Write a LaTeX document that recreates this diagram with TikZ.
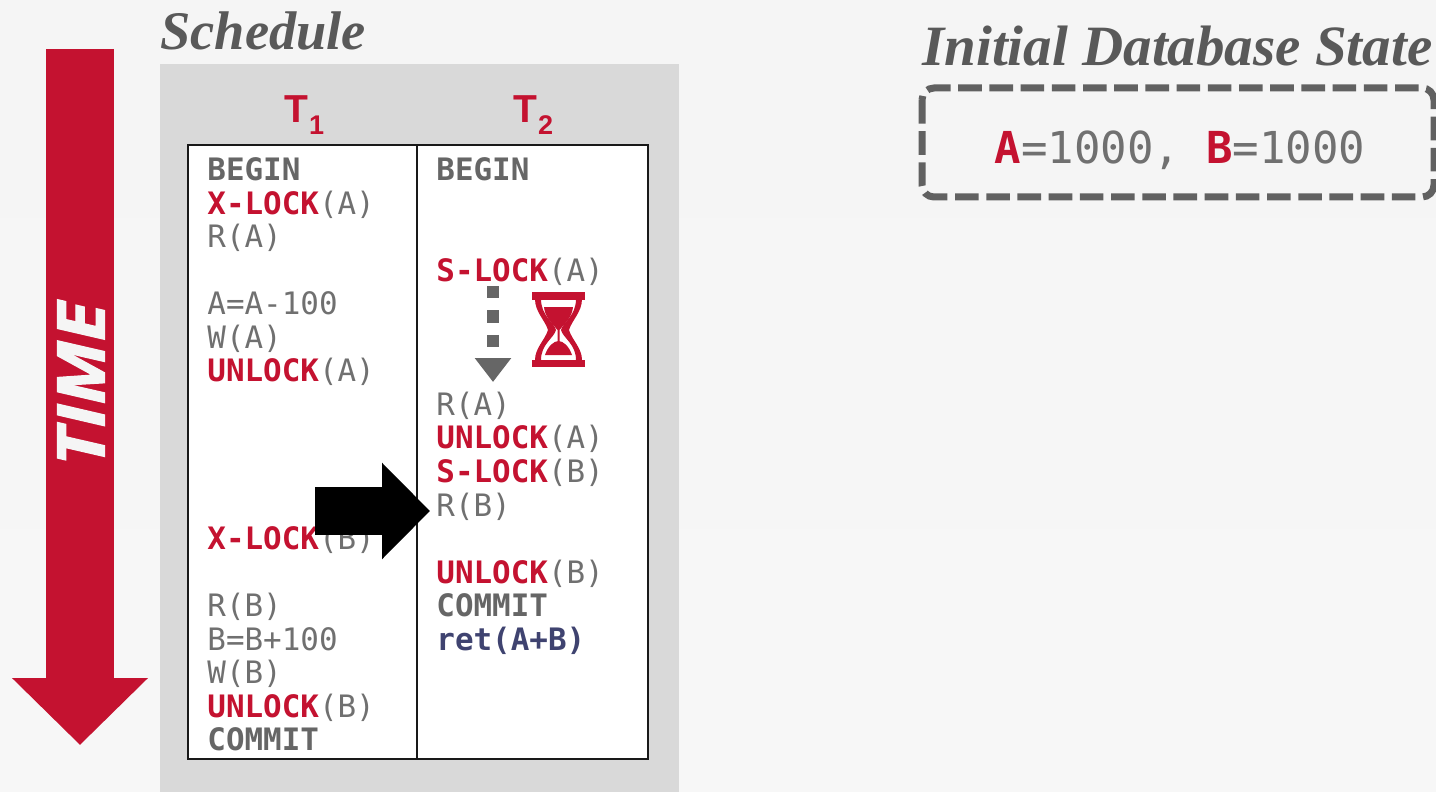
\documentclass[tikz,border=0pt]{standalone}
\usepackage{fontspec}
\usetikzlibrary{arrows.meta}
\setmainfont{Liberation Serif}
\setmonofont{DejaVu Sans Mono}
\setsansfont{Liberation Sans}
\newfontfamily\timefont[FakeBold=2,FakeStretch=1.09]{Open Sans}
\definecolor{cmured}{HTML}{C41230}
\definecolor{txtgray}{HTML}{707070}
\definecolor{boldgray}{HTML}{666666}
\definecolor{titlegray}{HTML}{595959}
\definecolor{retblue}{HTML}{3F4370}
\definecolor{panelgray}{HTML}{D9D9D9}
\newcommand{\kw}[1]{\textcolor{cmured}{\textbf{#1}}}
\newcommand{\kwg}[1]{\textcolor{boldgray}{\textbf{#1}}}
\newcommand{\txn}[1]{\textbf{T}\kern0.5pt\raisebox{-6pt}{\fontsize{13.5}{15}\selectfont\textbf{#1}}}
\tikzset{
  stmt/.style={anchor=base west,inner sep=0pt,font=\ttfamily\fontsize{15.45}{18}\selectfont,text=txtgray},
  heading/.style={anchor=base west,inner sep=0pt,font=\rmfamily\bfseries\itshape,text=titlegray},
  txnhead/.style={anchor=base west,inner sep=0pt,font=\sffamily\fontsize{19.5}{24}\selectfont,text=cmured},
}
\begin{document}
\begin{tikzpicture}[x=0.5pt,y=-0.5pt]
      \useasboundingbox (0,0) rectangle (1436,792);
      \shade[top color=black!4,bottom color=black!3] (0,0) rectangle (1436,792);
      \fill[panelgray] (160,64) rectangle (679,792);
      \fill[white] (188,145) rectangle (648,759);
      \draw[black!90,line width=1pt] (188,145) rectangle (648,759);
      \draw[black!90,line width=1pt] (417,145) -- (417,759);

      % time arrow
      \coordinate (timetop) at (80,49);
      \coordinate (timeend) at (80,745);
      \draw[cmured,line width=34pt,-{Triangle[length=33.5pt,width=66pt]}] (timetop) -- (timeend);
      \node[rotate=90,inner sep=0pt,text=black!4,font=\timefont\bfseries\itshape\fontsize{33}{36}\selectfont] (time) at (81,384) {TIME};

      % titles
      \path
      (160,50) node[heading,font=\rmfamily\bfseries\itshape\fontsize{27.2}{30}\selectfont](schedule) {Schedule}
      (922,66) node[heading,font=\rmfamily\bfseries\itshape\fontsize{28.5}{32}\selectfont](initstate) {Initial Database State}
      ;

      \path
      (284,123) node[txnhead](tone) {\txn{1}}
      (513,123) node[txnhead](ttwo) {\txn{2}}
      ;

      % first transaction
      \path
      (207,180.5) node[stmt](abegin) {\kwg{BEGIN}}
      (207,214.1) node[stmt](axlocka) {\kw{X-LOCK}(A)}
      (207,247.6) node[stmt](ara) {R(A)}
      (207,314.7) node[stmt](acalca) {A=A-100}
      (207,348.3) node[stmt](awa) {W(A)}
      (207,381.8) node[stmt](aunlocka) {\kw{UNLOCK}(A)}
      (207,549.6) node[stmt](axlockb) {\kw{X-LOCK}(B)}
      (207,616.7) node[stmt](arb) {R(B)}
      (207,650.2) node[stmt](acalcb) {B=B+100}
      (207,683.8) node[stmt](awb) {W(B)}
      (207,717.3) node[stmt](aunlockb) {\kw{UNLOCK}(B)}
      (207,750.9) node[stmt](acommit) {\kwg{COMMIT}}
      ;

      % second transaction
      \path
      (436,180.5) node[stmt](bbegin) {\kwg{BEGIN}}
      (436,281) node[stmt](bslocka) {\kw{S-LOCK}(A)}
      (436,415.2) node[stmt](bra) {R(A)}
      (436,448.9) node[stmt](bunlocka) {\kw{UNLOCK}(A)}
      (436,482.5) node[stmt](bslockb) {\kw{S-LOCK}(B)}
      (436,516) node[stmt](brb) {R(B)}
      (436,583.2) node[stmt](bunlockb) {\kw{UNLOCK}(B)}
      (436,616.7) node[stmt](bcommit) {\kwg{COMMIT}}
      (436,650.2) node[stmt,text=retblue](bret) {\textbf{ret(A+B)}}
      ;

      % waiting
      \coordinate (waitstart) at (493,286);
      \coordinate (waitend) at (493,382);
      \draw[boldgray,line width=6pt,dash pattern=on 6.2pt off 6pt,-{Triangle[length=12pt,width=17.5pt]}] (waitstart) -- (waitend);

      % hourglass
      \fill[cmured] (532,292) rectangle (585,300);
      \fill[cmured] (532,360) rectangle (585,367);
      \fill[cmured,even odd rule]
        (535,299) .. controls (535,312) and (545,320) .. (548,330) .. controls (545,340) and (535,348) .. (535,360)
        -- (582,360) .. controls (582,348) and (572,340) .. (569,330) .. controls (572,320) and (582,312) .. (582,299) -- cycle
        (541,299) .. controls (541,316) and (554,322) .. (556,330) .. controls (554,338) and (541,344) .. (541,360)
        -- (576,360) .. controls (576,344) and (563,338) .. (561,330) .. controls (563,322) and (576,316) .. (576,299) -- cycle;
      \fill[cmured] (544,307) -- (573,307) .. controls (572,317) and (566,322) .. (559.5,330) -- (559.5,343) -- (557.5,343) -- (557.5,330) .. controls (551,322) and (545,317) .. (544,307) -- cycle;
      \fill[cmured] (545,355) .. controls (548,346) and (554,341) .. (558.5,341) .. controls (563,341) and (569,346) .. (572,355) -- cycle;

      % initial state
      \draw[titlegray!95,line width=3.5pt,rounded corners=6pt,dash pattern=on 11.8pt off 3.8pt] (922,88) rectangle (1434,197);
      \node[anchor=base,inner sep=0pt,font=\ttfamily\fontsize{22}{26}\selectfont,text=txtgray] (state) at (1180,163) {\kw{A}=1000, \kw{B}=1000};

      % current position
      \coordinate (nowfrom) at (315,511);
      \coordinate (nowto) at (430,511);
      \draw[black,line width=24pt,-{Triangle[length=24pt,width=46.8pt]}] (nowfrom) -- (nowto);
\end{tikzpicture}
\end{document}
